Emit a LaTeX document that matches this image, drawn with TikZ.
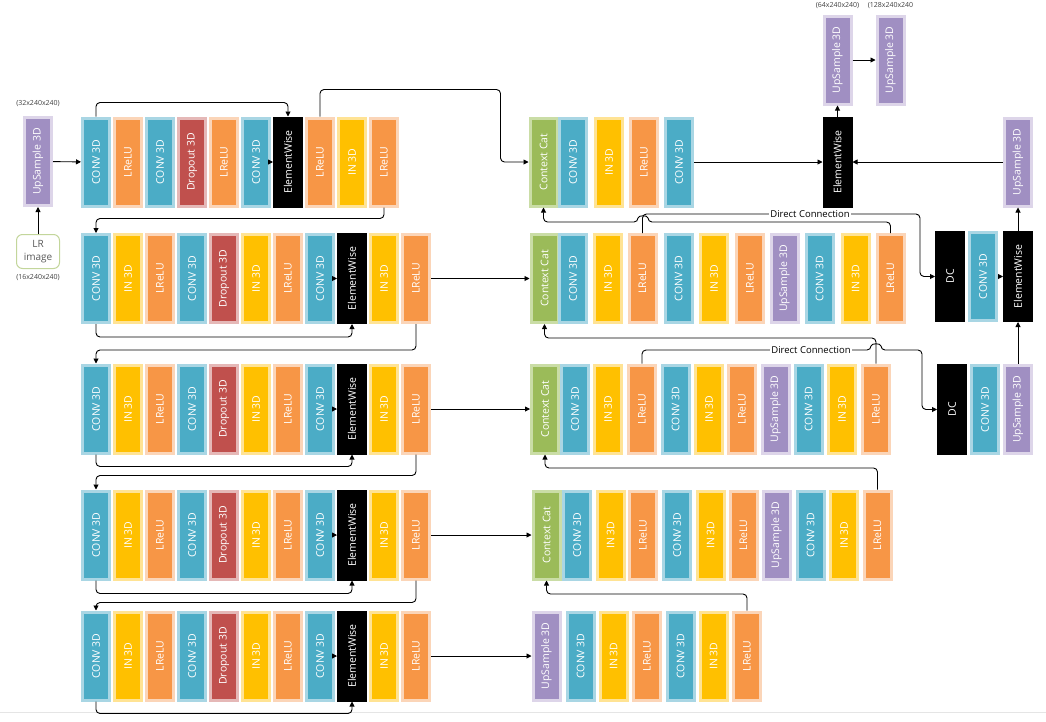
\documentclass[tikz,border=0pt]{standalone}
\usepackage{fontspec}
\setmainfont{Open Sans}
\usetikzlibrary{calc,arrows.meta}

\definecolor{convc}{HTML}{4BACC6}
\definecolor{convl}{HTML}{A9D6E4}
\definecolor{reluc}{HTML}{F79646}
\definecolor{relul}{HTML}{FBD5B8}
\definecolor{inc}{HTML}{FFC000}
\definecolor{inl}{HTML}{FFE394}
\definecolor{dropc}{HTML}{C0504D}
\definecolor{dropl}{HTML}{E5B8B7}
\definecolor{upc}{HTML}{A08FC2}
\definecolor{upl}{HTML}{DDD5E9}
\definecolor{catc}{HTML}{9BBB59}
\definecolor{catl}{HTML}{CADDA6}
\definecolor{lrc}{HTML}{C3D69B}

\tikzset{
  blk/.style={draw, line width=3pt, minimum width=27pt, minimum height=88pt,
    inner sep=0pt, text=white, font=\fontsize{10.5}{12}\selectfont},
  conv/.style={blk, fill=convc, draw=convl, node contents={\rotatebox{90}{CONV 3D}}},
  relu/.style={blk, fill=reluc, draw=relul, node contents={\rotatebox{90}{LReLU}}},
  inorm/.style={blk, fill=inc, draw=inl, node contents={\rotatebox{90}{IN 3D}}},
  drop/.style={blk, fill=dropc, draw=dropl, node contents={\rotatebox{90}{Dropout 3D}}},
  ups/.style={blk, fill=upc, draw=upl, node contents={\rotatebox{90}{UpSample 3D}}},
  cat/.style={blk, fill=catc, draw=catl, node contents={\rotatebox{90}{Context Cat}}},
  ew/.style={blk, fill=black, draw=black, node contents={\rotatebox{90}{ElementWise}}},
  dc/.style={blk, fill=black, draw=black, node contents={\rotatebox{90}{DC}}},
  lrbox/.style={draw=lrc, line width=1pt, fill=white, rounded corners=6pt,
    minimum width=43pt, minimum height=34pt, align=center, text=black!65,
    font=\fontsize{10}{12.5}\selectfont},
  dim/.style={font=\fontsize{7}{8}\selectfont, text=black!75, inner sep=0pt},
  dclbl/.style={fill=white, inner sep=1pt, font=\fontsize{9.5}{11}\selectfont},
  arr/.style={-{Triangle[length=5pt,width=5pt]}, line width=0.9pt, rounded corners=4pt}
}

\begin{document}
\begin{tikzpicture}[x=1pt,y=-1pt]
  \useasboundingbox (0,0) rectangle (1046,721);
  \draw[gray!20] (0,712) -- (1046,712);

  \node (us0) at (38,161.5) [ups];
  \node[lrbox] (lr) at (38,251.5) {LR\\image};
  \node[dim] (d32) at (38,104) {(32x240x240)};
  \node[dim] (d16) at (38,278) {(16x240x240)};

  \node (a1) at (96,162) [conv];
  \node (a2) at (128,162) [relu];
  \node (a3) at (160,162) [conv];
  \node (a4) at (192,162) [drop];
  \node (a5) at (224,162) [relu];
  \node (a6) at (256,162) [conv];
  \node (a7) at (288,162) [ew];
  \node (a8) at (320,162) [relu];
  \node (a9) at (352,162) [inorm];
  \node (a10) at (384,162) [relu];

  \node (b1) at (96,278.5) [conv];
  \node (b2) at (128,278.5) [inorm];
  \node (b3) at (160,278.5) [relu];
  \node (b4) at (192,278.5) [conv];
  \node (b5) at (224,278.5) [drop];
  \node (b6) at (256,278.5) [inorm];
  \node (b7) at (288,278.5) [relu];
  \node (b8) at (320,278.5) [conv];
  \node (b9) at (352,278.5) [ew];
  \node (b10) at (384,278.5) [inorm];
  \node (b11) at (416,278.5) [relu];

  \node (c1) at (96,409) [conv];
  \node (c2) at (128,409) [inorm];
  \node (c3) at (160,409) [relu];
  \node (c4) at (192,409) [conv];
  \node (c5) at (224,409) [drop];
  \node (c6) at (256,409) [inorm];
  \node (c7) at (288,409) [relu];
  \node (c8) at (320,409) [conv];
  \node (c9) at (352,409) [ew];
  \node (c10) at (384,409) [inorm];
  \node (c11) at (416,409) [relu];

  \node (d1) at (96,535) [conv];
  \node (d2) at (128,535) [inorm];
  \node (d3) at (160,535) [relu];
  \node (d4) at (192,535) [conv];
  \node (d5) at (224,535) [drop];
  \node (d6) at (256,535) [inorm];
  \node (d7) at (288,535) [relu];
  \node (d8) at (320,535) [conv];
  \node (d9) at (352,535) [ew];
  \node (d10) at (384,535) [inorm];
  \node (d11) at (416,535) [relu];

  \node (e1) at (96,656) [conv];
  \node (e2) at (128,656) [inorm];
  \node (e3) at (160,656) [relu];
  \node (e4) at (192,656) [conv];
  \node (e5) at (224,656) [drop];
  \node (e6) at (256,656) [inorm];
  \node (e7) at (288,656) [relu];
  \node (e8) at (320,656) [conv];
  \node (e9) at (352,656) [ew];
  \node (e10) at (384,656) [inorm];
  \node (e11) at (416,656) [relu];

  \node (ca1) at (543.5,162) [cat];
  \node (ca2) at (573,162) [conv];
  \node (ca3) at (609,162) [inorm];
  \node (ca4) at (644,162) [relu];
  \node (ca5) at (679,162) [conv];

  \node (cb1) at (544.5,278.5) [cat];
  \node (cb2) at (573,278.5) [conv];
  \node (cb3) at (608,278.5) [inorm];
  \node (cb4) at (642.5,278.5) [relu];
  \node (cb5) at (678.5,278.5) [conv];
  \node (cb6) at (714,278.5) [inorm];
  \node (cb7) at (750,278.5) [relu];
  \node (cb8) at (784.5,278.5) [ups];
  \node (cb9) at (819.5,278.5) [conv];
  \node (cb10) at (855.5,278.5) [inorm];
  \node (cb11) at (890.5,278.5) [relu];

  \node (cc1) at (545,409) [cat];
  \node (cc2) at (575,409) [conv];
  \node (cc3) at (608,409) [inorm];
  \node (cc4) at (642,409) [relu];
  \node (cc5) at (675.5,409) [conv];
  \node (cc6) at (709,409) [inorm];
  \node (cc7) at (742,409) [relu];
  \node (cc8) at (775.5,409) [ups];
  \node (cc9) at (808.5,409) [conv];
  \node (cc10) at (842,409) [inorm];
  \node (cc11) at (876,409) [relu];

  \node (cd1) at (546.5,535) [cat];
  \node (cd2) at (577,535) [conv];
  \node (cd3) at (610.5,535) [inorm];
  \node (cd4) at (643,535) [relu];
  \node (cd5) at (677,535) [conv];
  \node (cd6) at (710.5,535) [inorm];
  \node (cd7) at (743.5,535) [relu];
  \node (cd8) at (776.5,535) [ups];
  \node (cd9) at (810.5,535) [conv];
  \node (cd10) at (844,535) [inorm];
  \node (cd11) at (877.5,535) [relu];

  \node (ce1) at (546.5,656) [ups];
  \node (ce2) at (580.5,656) [conv];
  \node (ce3) at (613.5,656) [inorm];
  \node (ce4) at (647,656) [relu];
  \node (ce5) at (680.5,656) [conv];
  \node (ce6) at (713.5,656) [inorm];
  \node (ce7) at (747,656) [relu];

  \node (usA) at (837.5,60) [ups];
  \node (usB) at (890.5,60) [ups];
  \node[dim] (d64) at (837.5,6) {(64x240x240)};
  \node[dim] (d128) at (890.5,6) {(128x240x240};
  \node (ewA) at (837.5,162) [ew];
  \node (usR) at (1018,162) [ups];

  \node (dc1) at (950,276.5) [dc];
  \node (cv1) at (983,276.5) [conv];
  \node (ew2) at (1018,276.5) [ew];
  \node (dc2) at (952,409.5) [dc];
  \node (cv2) at (985,409.5) [conv];
  \node (us2) at (1018,409.5) [ups];

  % left column
  \draw[arr] (lr) -- (us0);
  \draw[arr] (us0) -- (a1);
  \draw[arr] (a1.north) -- ++(0,-14) -| (a7.north);
  \draw[arr] (a6.east) -- (a7.west);
  \draw[arr] (a8.north) -- ++(0,-27) -| ([xshift=-28pt]ca1.west) -- (ca1.west);
  \draw[arr] (a10.south) -- ++(0,11) -| (b1.north);

  \draw[arr] (b1.south) -- ++(0,13) -| (b9.south);
  \draw[arr] (b8.east) -- (b9.west);
  \draw[arr] (b11) -- (cb1);
  \draw[arr] (b11.south) -- ++(0,26) -| (c1.north);

  \draw[arr] (c1.south) -- ++(0,12) -| (c9.south);
  \draw[arr] (c8.east) -- (c9.west);
  \draw[arr] (c11) -- (cc1);
  \draw[arr] (c11.south) -- ++(0,21) -| (d1.north);

  \draw[arr] (d1.south) -- ++(0,13) -| (d9.south);
  \draw[arr] (d8.east) -- (d9.west);
  \draw[arr] (d11) -- (cd1);
  \draw[arr] (d11.south) -- ++(0,22) -| (e1.north);

  \draw[arr] (e1.south) -- ++(0,12) -| (e9.south);
  \draw[arr] (e8.east) -- (e9.west);
  \draw[arr] (e11) -- (ce1);

  % right side
  \draw[arr] (ca5) -- (ewA);
  \draw[arr] (usR) -- (ewA);
  \draw[arr] (ewA) -- (usA);
  \draw[arr] (usA) -- (usB);
  \draw[arr] (ew2) -- (usR);
  \draw[arr] (us2) -- (ew2);
  \draw[arr] (cv1.east) -- (ew2.west);

  \draw[arr] (cb11.north) -- ++(0,-11) -- (648,222)
    .. controls (648,215) and (638,215) .. (638,222) -| (ca1.south);
  \draw[arr] (cb4.north) -- ++(0,-19) -| ([xshift=-15pt]dc1.west) -- (dc1.west);
  \node[dclbl] (dl1) at (810,214) {Direct Connection};

  \draw[arr] (cc11.north) -- ++(0,-25.5) -| (cb1.south);
  \draw[arr] (cc4.north) -- ++(0,-13.5) -- (871,350)
    .. controls (871,343) and (881,343) .. (881,350) -| ([xshift=-15pt]dc2.west) -- (dc2.west);
  \node[dclbl] (dl2) at (811,350) {Direct Connection};

  \draw[arr] (cd11.north) -- ++(0,-21.5) -| (cc1.south);
  \draw[arr] (ce7.north) -- ++(0,-16.5) -| (cd1.south);
\end{tikzpicture}
\end{document}
